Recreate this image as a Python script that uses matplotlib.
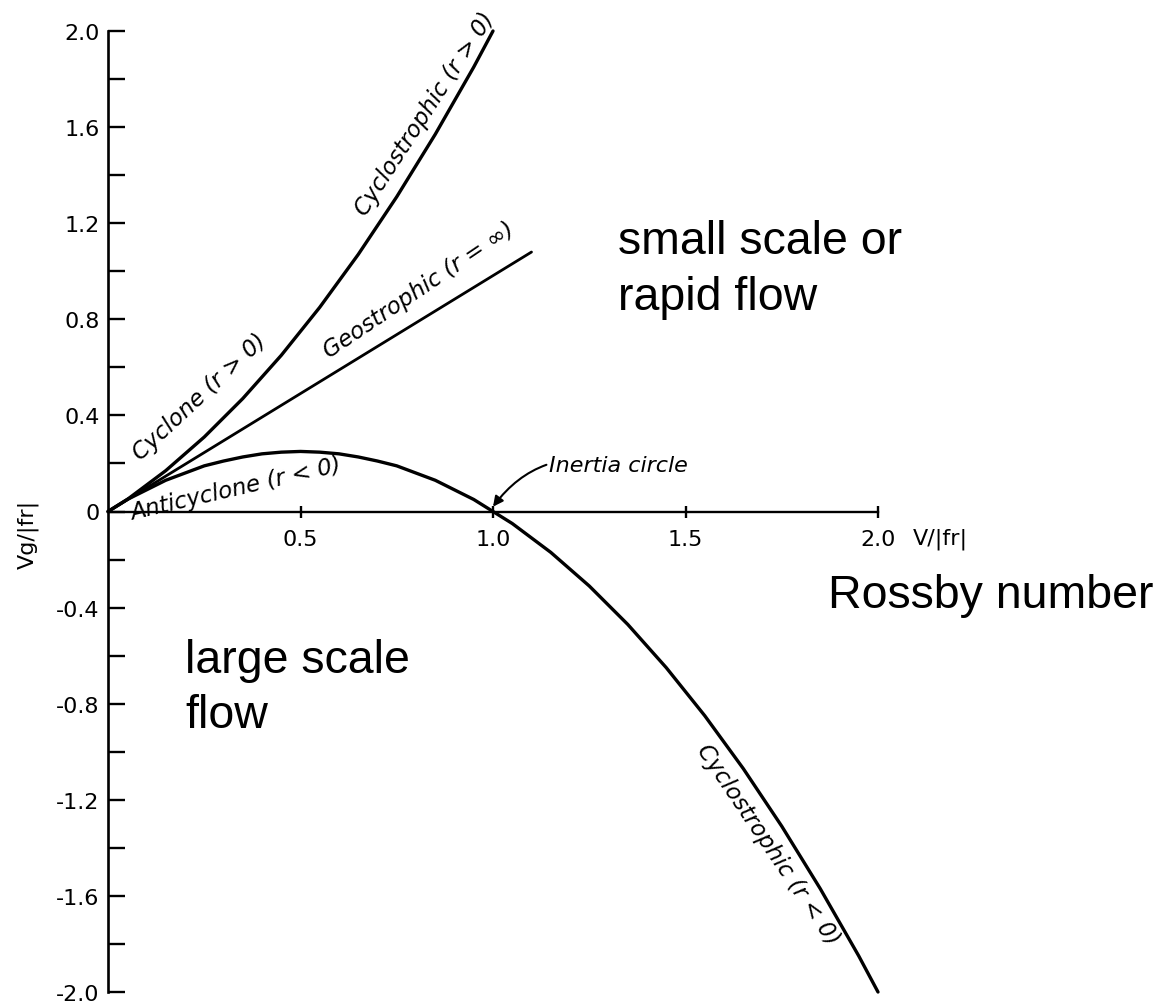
"""Gradient wind diagram: Vg/|fr| against the Rossby number V/|fr|."""

import matplotlib

matplotlib.use("Agg")
import matplotlib.pyplot as plt

# values
ro_cyc = [0.0, 0.05, 0.1, 0.15, 0.2, 0.25, 0.3, 0.35, 0.4, 0.45, 0.5,
          0.55, 0.6, 0.65, 0.7, 0.75, 0.8, 0.85, 0.9, 0.95, 1.0]
vg_cyc = [0.0, 0.05, 0.11, 0.17, 0.24, 0.31, 0.39, 0.47, 0.56, 0.65, 0.75,
          0.85, 0.96, 1.07, 1.19, 1.31, 1.44, 1.57, 1.71, 1.85, 2.0]

ro_geo = [0.0, 1.1]
vg_geo = [0.0, 1.08]

ro_anti = [0.0, 0.05, 0.1, 0.15, 0.2, 0.25, 0.3, 0.35, 0.4, 0.45, 0.5,
           0.55, 0.6, 0.65, 0.7, 0.75, 0.8, 0.85, 0.9, 0.95, 1.0,
           1.05, 1.1, 1.15, 1.2, 1.25, 1.3, 1.35, 1.4, 1.45, 1.5,
           1.55, 1.6, 1.65, 1.7, 1.75, 1.8, 1.85, 1.9, 1.95, 2.0]
vg_anti = [0.0, 0.05, 0.09, 0.13, 0.16, 0.19, 0.21, 0.227, 0.24, 0.247, 0.25,
           0.247, 0.24, 0.227, 0.21, 0.19, 0.16, 0.13, 0.09, 0.05, 0.0,
           -0.05, -0.11, -0.17, -0.24, -0.31, -0.39, -0.47, -0.56, -0.65, -0.75,
           -0.85, -0.96, -1.07, -1.19, -1.31, -1.44, -1.57, -1.71, -1.85, -2.0]

y_major = [2.0, 1.6, 1.2, 0.8, 0.4, 0.0, -0.4, -0.8, -1.2, -1.6, -2.0]
y_labels = ["2.0", "1.6", "1.2", "0.8", "0.4", "0", "-0.4", "-0.8", "-1.2", "-1.6", "-2.0"]
y_minor = [1.8, 1.4, 1.0, 0.6, 0.2, -0.2, -0.6, -1.0, -1.4, -1.8]
x_major = [0.5, 1.0, 1.5, 2.0]
x_labels = ["0.5", "1.0", "1.5", "2.0"]

W, H = 1164, 1004
fig = plt.figure(figsize=(W / 100, H / 100), dpi=100)
ax = fig.add_axes([108 / W, (H - 993) / H, (878 - 108) / W, (993 - 32) / H])
ax.set_xlim(0, 2.0)
ax.set_ylim(-2.0, 2.0)

LW = 2.4
ax.plot(ro_cyc, vg_cyc, color="black", lw=LW, solid_capstyle="round", clip_on=False)
ax.plot(ro_geo, vg_geo, color="black", lw=2.0, solid_capstyle="round")
ax.plot(ro_anti, vg_anti, color="black", lw=LW, clip_on=False, solid_capstyle="round")

# axes: left spine + x axis through zero
ax.spines[["top", "right"]].set_visible(False)
ax.spines["bottom"].set_position(("data", 0))
ax.spines["bottom"].set_bounds(0, 2.0)
ax.spines["left"].set_linewidth(1.9)
ax.spines["bottom"].set_linewidth(1.7)

lab_font = dict(family="DejaVu Sans", size=16)
ax.set_yticks(y_major)
ax.set_yticklabels(y_labels, **lab_font)
ax.set_yticks(y_minor, minor=True)
ax.tick_params(axis="y", which="both", direction="in", length=12, width=1.7, pad=6)
ax.set_xticks(x_major)
ax.set_xticklabels(x_labels, **lab_font)
ax.tick_params(axis="x", direction="inout", length=9, width=1.7, pad=8)

ax.text(2.09, -0.065, "V/|fr|", ha="left", va="top", **lab_font)
ax.text(-0.208, -0.09, "Vg/|fr|", rotation=90, ha="center", va="center",
        family="DejaVu Sans", size=16)

# curve labels (italic lettering)
it = dict(family="DejaVu Sans", style="italic", size=16.5, ha="center", va="center",
          rotation_mode="anchor")
ax.text(0.239, 0.479, "Cyclone (r > 0)", rotation=43, **it)
ax.text(0.823, 1.658, "Cyclostrophic (r > 0)", rotation=57, **it)
ax.text(0.808, 0.925, "Geostrophic (r = \u221e)", rotation=34, **it)
ax.text(0.332, 0.096, "Anticyclone (r < 0)", rotation=13, **it)
ax.text(1.715, -1.385, "Cyclostrophic (r < 0)", rotation=-56, **it)

ax.annotate("Inertia circle", xy=(1.0, 0.02), xytext=(1.146, 0.167),
            family="DejaVu Sans", style="italic", size=16, ha="left", va="baseline",
            arrowprops=dict(arrowstyle="-|>", color="black", lw=1.5,
                            shrinkA=0, shrinkB=0, mutation_scale=15,
                            connectionstyle="arc3,rad=0.35"))

# regime annotations
big = dict(family="Liberation Sans", size=33.5, color="black")
ax.text(1.325, 1.075, "small scale or", ha="left", va="baseline", **big)
ax.text(1.325, 0.842, "rapid flow", ha="left", va="baseline", **big)
ax.text(0.2, -0.667, "large scale", ha="left", va="baseline", **big)
ax.text(0.2, -0.896, "flow", ha="left", va="baseline", **big)
ax.text(1.87, -0.396, "Rossby number", ha="left", va="baseline", **big)

fig.savefig("out.png", dpi=100)
